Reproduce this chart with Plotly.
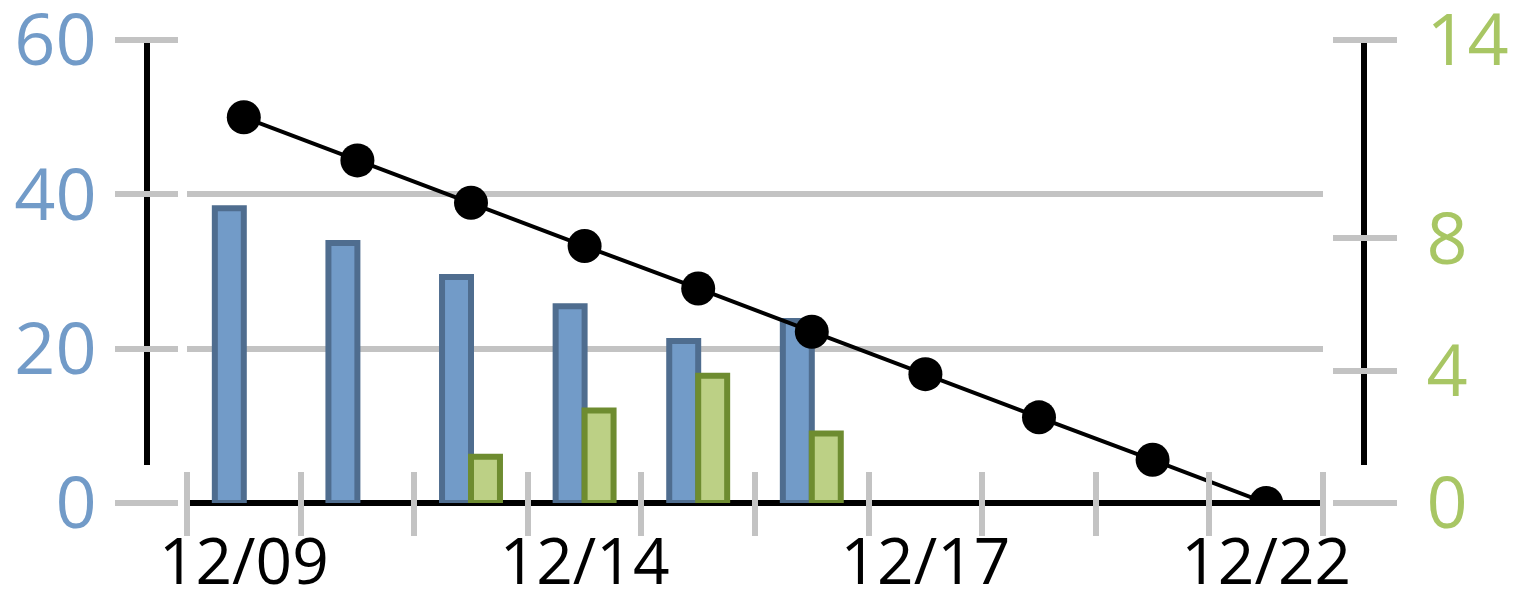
import plotly.graph_objects as go

# ---- data ----
dates = ["12/09", "12/10", "12/13", "12/14", "12/15", "12/16", "12/17", "12/20", "12/21", "12/22"]
tick_labels = ["12/09", "", "", "12/14", "", "", "12/17", "", "", "12/22"]
remaining = [38.2, 33.7, 29.3, 25.5, 21.0, 23.6, None, None, None, None]
added = [None, None, 1.4, 2.8, 3.85, 2.1, None, None, None, None]
ideal = [50, 44.4, 38.9, 33.3, 27.8, 22.2, 16.7, 11.1, 5.6, 0]
left_ticks = [0, 20, 40, 60]
right_ticks = [0, 4, 8, 14]

# page body has an 8px margin: work in window pixels and shift
OFF = 8
W, H = 1522 - OFF, 610 - OFF
TOP, BOTTOM = 40 - OFF, 503 - OFF
PLOT_H = BOTTOM - TOP
X0, X1 = 187 - OFF, 1323 - OFF

BLUE = "#729bc8"
BLUE_EDGE = "#4f6d8f"
GREEN = "#bcd085"
GREEN_EDGE = "#6e8c30"
GREY = "#c3c3c3"
LBL_BLUE = "#729bc8"
LBL_GREEN = "#a8c664"
FONT = "Open Sans"

bar_w = 0.255

fig = go.Figure()
fig.add_trace(go.Bar(
    x=dates, y=remaining, width=bar_w, offset=-bar_w,
    marker=dict(color=BLUE, line=dict(color=BLUE_EDGE, width=6)),
    yaxis="y", showlegend=False,
))
fig.add_trace(go.Scatter(
    x=dates, y=ideal, mode="lines+markers",
    line=dict(color="black", width=4),
    marker=dict(color="black", size=34),
    yaxis="y", showlegend=False,
))
fig.add_trace(go.Bar(
    x=dates, y=added, width=bar_w, offset=0,
    marker=dict(color=GREEN, line=dict(color=GREEN_EDGE, width=6)),
    yaxis="y2", showlegend=False,
))

def px(x):
    return (x - OFF) / W

def py(y):
    return (BOTTOM - (y - OFF)) / PLOT_H

fig.update_layout(
    width=W, height=H,
    margin=dict(l=0, r=0, t=TOP, b=H - BOTTOM),
    paper_bgcolor="white", plot_bgcolor="white",
    template="none",
    barmode="overlay",
    showlegend=False,
    xaxis=dict(
        type="category", domain=[(X0) / W, (X1) / W],
        range=[-0.5, 9.5],
        anchor="free", position=py(471),
        tickmode="array", tickvals=dates, ticktext=tick_labels,
        tickson="boundaries", tickangle=0,
        ticks="outside", ticklen=64, tickwidth=6, tickcolor=GREY,
        showgrid=False, showline=False, zeroline=False,
        tickfont=dict(family=FONT, size=64, color="black"),
        ticklabelstandoff=48, ticklabeloverflow="allow",
        automargin=False,
    ),
    yaxis=dict(
        range=[0, 60], domain=[0, 1],
        anchor="free", position=px(178),
        tickmode="array", tickvals=left_ticks,
        ticks="outside", ticklen=63, tickwidth=6, tickcolor=GREY,
        showgrid=True, gridcolor=GREY, gridwidth=6,
        zeroline=True, zerolinecolor="black", zerolinewidth=6,
        showline=False,
        tickfont=dict(family=FONT, size=72, color=LBL_BLUE),
        ticklabelstandoff=4, ticklabeloverflow="allow",
        automargin=False,
    ),
    yaxis2=dict(
        range=[0, 14], overlaying="y", side="right",
        anchor="free", position=px(1332),
        tickmode="array", tickvals=right_ticks,
        ticks="outside", ticklen=64, tickwidth=6, tickcolor=GREY,
        showgrid=False, zeroline=False, showline=False,
        tickfont=dict(family=FONT, size=72, color=LBL_GREEN),
        ticklabelstandoff=15, ticklabeloverflow="allow",
        automargin=False,
    ),
    shapes=[
        dict(type="line", xref="paper", yref="paper",
             x0=px(147), x1=px(147), y0=py(465), y1=py(43),
             line=dict(color="black", width=6), layer="below"),
        dict(type="line", xref="paper", yref="paper",
             x0=px(1364), x1=px(1364), y0=py(465), y1=py(43),
             line=dict(color="black", width=6), layer="below"),
    ],
)

fig.write_html("out.html")
